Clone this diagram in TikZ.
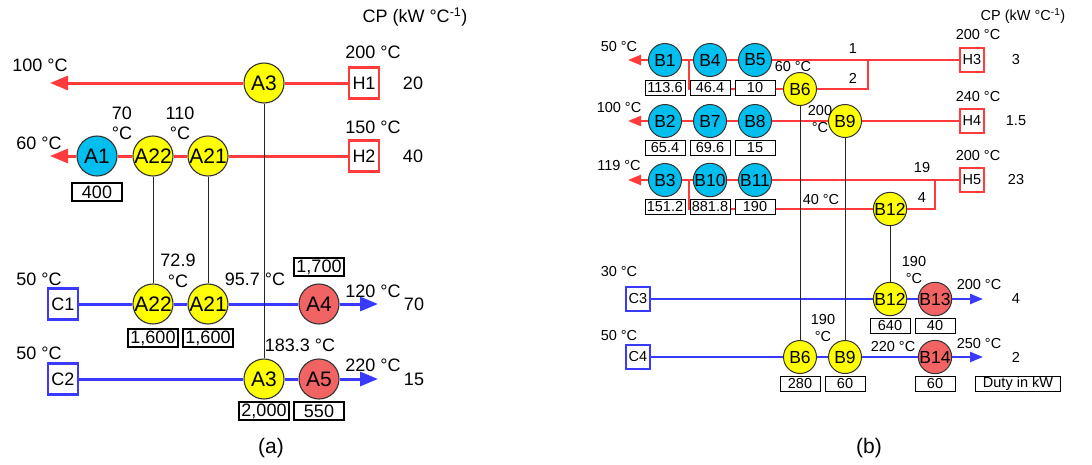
\documentclass[tikz,border=0pt]{standalone}
\usepackage{fontspec}
\setmainfont{Liberation Sans}
\usetikzlibrary{arrows.meta,positioning}
\definecolor{hotred}{HTML}{FF3B3B}
\definecolor{coldblue}{HTML}{3939FF}
\definecolor{cyanfill}{HTML}{00BFEF}
\definecolor{yelfill}{HTML}{FFFF00}
\definecolor{redfill}{HTML}{F26464}
\newcommand{\fs}[1]{\fontsize{#1pt}{#1pt}\selectfont}
\begin{document}
\begin{tikzpicture}[x=1pt, y=-1pt,
  hxa/.style={circle, draw=black!80, line width=1.1pt, minimum size=40pt,
              inner sep=0pt, font=\fs{21}},
  hxb/.style={circle, draw=black!80, line width=1pt, minimum size=33pt,
              inner sep=0pt, font=\fs{17.5}},
  cool/.style={fill=cyanfill},
  exch/.style={fill=yelfill},
  heat/.style={fill=redfill},
  dutya/.style={draw, fill=white, line width=1.1pt, minimum width=50pt,
                minimum height=18pt, inner sep=0pt, font=\fs{18}},
  dutyb/.style={draw, fill=white, line width=0.9pt, minimum width=40pt,
                minimum height=15pt, inner sep=0pt, font=\fs{14.5}},
  hotbox/.style={draw=hotred, fill=white, line width=2.4pt, minimum width=30pt,
                 minimum height=31pt, inner sep=0pt, font=\fs{18}},
  coldbox/.style={draw=coldblue, fill=white, line width=2.4pt, minimum width=30pt,
                  minimum height=31pt, inner sep=0pt, font=\fs{18}},
  hotboxb/.style={hotbox, line width=1.8pt, minimum width=24pt,
                  minimum height=24pt, font=\fs{14.5}},
  coldboxb/.style={coldbox, line width=1.8pt, minimum width=24pt,
                   minimum height=24pt, font=\fs{14.5}},
  hota/.style={draw=hotred, line width=3pt, -{Triangle[length=18pt,width=14pt]}},
  colda/.style={draw=coldblue, line width=3pt, -{Triangle[length=18pt,width=14pt]}},
  hotb/.style={draw=hotred, line width=2.3pt, -{Triangle[length=13pt,width=10pt]}},
  coldb/.style={draw=coldblue, line width=2.3pt, -{Triangle[length=13pt,width=10pt]}},
  branch/.style={draw=hotred, line width=2.3pt},
  match/.style={draw=black!85, line width=0.9pt},
  lbla/.style={font=\fs{18}, inner sep=0pt, align=center},
  lblb/.style={font=\fs{14.5}, inner sep=0pt, align=center}
]
\useasboundingbox (0,0) rectangle (1092,464);

\node[hotbox]  (H1)   at (364,83)  {H1};
\node[hotbox]  (H2)   at (364,156) {H2};
\node[coldbox] (C1)   at (63,304)  {C1};
\node[coldbox] (C2)   at (63,379)  {C2};
\node[hxa,exch] (A3h)  at (264,83)  {A3};
\node[hxa,cool] (A1)   at (97,156)  {A1};
\node[hxa,exch] (A22h) at (153,156) {A22};
\node[hxa,exch] (A21h) at (208,156) {A21};
\node[hxa,exch] (A22c) at (153,304) {A22};
\node[hxa,exch] (A21c) at (208,304) {A21};
\node[hxa,heat] (A4)   at (319,304) {A4};
\node[hxa,exch] (A3c)  at (264,379) {A3};
\node[hxa,heat] (A5)   at (319,379) {A5};
\coordinate (H1end) at (50,83);
\coordinate (H2end) at (50,156);
\coordinate (C1end) at (378,304);
\coordinate (C2end) at (378,379);

\draw[hota]  (H1) -- (A3h) -- (H1end);
\draw[hota]  (H2) -- (A21h) -- (A22h) -- (A1) -- (H2end);
\draw[colda] (C1) -- (A22c) -- (A21c) -- (A4) -- (C1end);
\draw[colda] (C2) -- (A3c) -- (A5) -- (C2end);
\draw[match] (A22h) -- (A22c);
\draw[match] (A21h) -- (A21c);
\draw[match] (A3h) -- (A3c);

\node[dutya] (dA1)  at (97,192)  {400};
\node[dutya] (dA4)  at (319,267) {1,700};
\node[dutya] (dA22) at (153,338) {1,600};
\node[dutya] (dA21) at (208,338) {1,600};
\node[dutya] (dA3)  at (264,411) {2,000};
\node[dutya] (dA5)  at (319,411) {550};

\node[lbla] (cpa)  at (415,17)  {CP (kW °C\textsuperscript{-1})};
\node[lbla] (tH1s) at (373,52)  {200 °C};
\node[lbla] (tH1t) at (40,65)   {100 °C};
\node[lbla] (cpH1) at (413,83)  {20};
\node[lbla] (tH2s) at (373,127) {150 °C};
\node[lbla] (tH2t) at (39,143)  {60 °C};
\node[lbla] (cpH2) at (413,156) {40};
\node[lbla, font=\fontsize{18pt}{20pt}\selectfont] (t70)  at (122,123) {70\\°C};
\node[lbla, font=\fontsize{18pt}{20pt}\selectfont] (t110) at (180,123) {110\\°C};
\node[lbla] (tC1s) at (39,279)  {50 °C};
\node[lbla, font=\fontsize{18pt}{21pt}\selectfont] (t729) at (178,271) {72.9\\°C};
\node[lbla] (t957) at (255,279) {95.7 °C};
\node[lbla] (tC1t) at (373,291) {120 °C};
\node[lbla] (cpC1) at (414,304) {70};
\node[lbla] (t183) at (300,345) {183.3 °C};
\node[lbla] (tC2s) at (39,353)  {50 °C};
\node[lbla] (tC2t) at (373,365) {220 °C};
\node[lbla] (cpC2) at (414,379) {15};
\node[lbla, font=\fs{21}] (capa) at (271,448) {(a)};

\node[hotboxb]  (H3) at (972,60)  {H3};
\node[hotboxb]  (H4) at (972,121) {H4};
\node[hotboxb]  (H5) at (972,180) {H5};
\node[coldboxb] (C3) at (638,299) {C3};
\node[coldboxb] (C4) at (638,357) {C4};
\node[hxb,cool] (B1)  at (665,60)  {B1};
\node[hxb,cool] (B4)  at (710,60)  {B4};
\node[hxb,cool] (B5)  at (755,60)  {B5};
\node[hxb,exch] (B6h) at (800,89)  {B6};
\node[hxb,cool] (B2)  at (665,121) {B2};
\node[hxb,cool] (B7)  at (710,121) {B7};
\node[hxb,cool] (B8)  at (755,121) {B8};
\node[hxb,exch] (B9h) at (845,121) {B9};
\node[hxb,cool] (B3)  at (665,180) {B3};
\node[hxb,cool] (B10) at (710,180) {B10};
\node[hxb,cool] (B11) at (755,180) {B11};
\node[hxb,exch] (B12h) at (890,209) {B12};
\node[hxb,exch] (B12c) at (890,299) {B12};
\node[hxb,heat] (B13) at (935,299) {B13};
\node[hxb,exch] (B6c) at (800,357) {B6};
\node[hxb,exch] (B9c) at (845,357) {B9};
\node[hxb,heat] (B14) at (935,357) {B14};
\coordinate (H3end) at (628,60);
\coordinate (H4end) at (628,121);
\coordinate (H5end) at (628,180);
\coordinate (C3end) at (983,299);
\coordinate (C4end) at (983,357);
\coordinate (sp3) at (868,60);
\coordinate (mg3) at (689,60);
\coordinate (sp5) at (935,180);
\coordinate (mg5) at (689,180);

\draw[hotb]  (H3) -- (B5) -- (B4) -- (B1) -- (H3end);
\draw[hotb]  (H4) -- (B9h) -- (B8) -- (B7) -- (B2) -- (H4end);
\draw[hotb]  (H5) -- (B11) -- (B10) -- (B3) -- (H5end);
\draw[coldb] (C3) -- (B12c) -- (B13) -- (C3end);
\draw[coldb] (C4) -- (B6c) -- (B9c) -- (B14) -- (C4end);
\draw[branch] (sp3) |- (B6h);
\draw[branch] (B6h) -| (mg3);
\draw[branch] (sp5) |- (B12h);
\draw[branch] (B12h) -| (mg5);
\draw[match] (B6h) -- (B6c);
\draw[match] (B9h) -- (B9c);
\draw[match] (B12h) -- (B12c);

\node[dutyb] (dB1)  at (665,88)  {113.6};
\node[dutyb] (dB4)  at (710,88)  {46.4};
\node[dutyb] (dB5)  at (755,88)  {10};
\node[dutyb] (dB2)  at (665,148) {65.4};
\node[dutyb] (dB7)  at (710,148) {69.6};
\node[dutyb] (dB8)  at (755,148) {15};
\node[dutyb] (dB3)  at (665,207) {151.2};
\node[dutyb] (dB10) at (710,207) {881.8};
\node[dutyb] (dB11) at (755,207) {190};
\node[dutyb] (dB12) at (890,326) {640};
\node[dutyb] (dB13) at (935,326) {40};
\node[dutyb] (dB6)  at (800,384) {280};
\node[dutyb] (dB9)  at (845,384) {60};
\node[dutyb] (dB14) at (935,384) {60};
\node[dutyb, minimum width=85pt] (duty) at (1018,384) {Duty in kW};

\node[lblb] (cpb)  at (1023,16) {CP (kW °C\textsuperscript{-1})};
\node[lblb] (tH3s) at (978,35)  {200 °C};
\node[lblb] (tH3t) at (619,47)  {50 °C};
\node[lblb] (cpH3) at (1016,60) {3};
\node[lblb] (f1)   at (853,49)  {1};
\node[lblb] (f2)   at (853,78)  {2};
\node[lblb] (t60)  at (793,67)  {60 °C};
\node[lblb] (tH4s) at (978,97)  {240 °C};
\node[lblb] (tH4t) at (619,108) {100 °C};
\node[lblb] (cpH4) at (1016,121) {1.5};
\node[lblb, font=\fontsize{14.5pt}{17pt}\selectfont] (t200) at (820,119) {200\\°C};
\node[lblb] (tH5s) at (978,156) {200 °C};
\node[lblb] (tH5t) at (619,166) {119 °C};
\node[lblb] (cpH5) at (1016,180) {23};
\node[lblb] (f19)  at (922,168) {19};
\node[lblb] (f4)   at (922,198) {4};
\node[lblb] (t40)  at (821,200) {40 °C};
\node[lblb] (tC3s) at (619,272) {30 °C};
\node[lblb, font=\fontsize{14.5pt}{17pt}\selectfont] (t190a) at (914,270) {190\\°C};
\node[lblb] (tC3t) at (979,285) {200 °C};
\node[lblb] (cpC3) at (1016,299) {4};
\node[lblb] (tC4s) at (619,336) {50 °C};
\node[lblb, font=\fontsize{14.5pt}{17pt}\selectfont] (t190b) at (823,328) {190\\°C};
\node[lblb] (t220) at (893,347) {220 °C};
\node[lblb] (tC4t) at (979,344) {250 °C};
\node[lblb] (cpC4) at (1016,357) {2};
\node[lbla, font=\fs{21}] (capb) at (869,448) {(b)};
\end{tikzpicture}
\end{document}
